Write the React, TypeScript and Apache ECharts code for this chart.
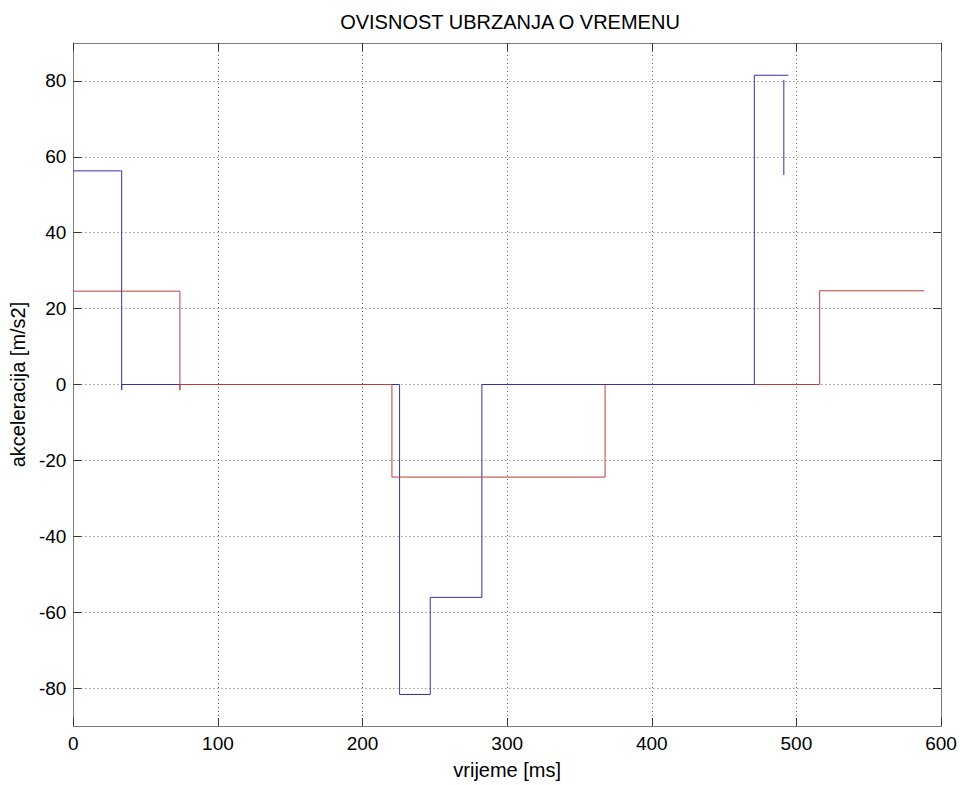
import React, { useEffect, useRef } from "react";
import * as echarts from "echarts";

const titleText = "OVISNOST UBRZANJA O VREMENU";
const xName = "vrijeme [ms]";
const yName = "akceleracija [m/s2]";

const xTicks = [0, 100, 200, 300, 400, 500, 600];
const yTicks = [-80, -60, -40, -20, 0, 20, 40, 60, 80];

// blue series: [time ms, acceleration m/s2]; null marks a break in the line
const blueTimes = [0, 33.4, 33.4, 33.4, 225.6, 225.6, 246.8, 246.8, 282.5, 282.5, 470.9, 470.9, 494.5, null, 491.3, 491.3];
const blueValues = [56.3, 56.3, -1.5, 0, 0, -81.7, -81.7, -56.1, -56.1, 0, 0, 81.5, 81.5, null, 80.3, 55.2];

// red series (early part, drawn on top)
const redEarlyTimes = [0, 73.7, 73.7, 73.7, 220.3, 220.3, 367.7, 367.7];
const redEarlyValues = [24.6, 24.6, -1.5, 0, 0, -24.4, -24.4, 0];
// red series (late part, drawn beneath blue)
const redLateTimes = [367.7, 516.1, 516.1, 588.5];
const redLateValues = [0, 0, 24.7, 24.7];

const BLUE = "#3232a6";
const RED = "#c23b3b";
const FONT = "Liberation Sans";

function pairs(xs: (number | null)[], ys: (number | null)[]) {
  return xs.map((x, i) => (x === null || ys[i] === null ? ["-", "-"] : [x, ys[i]]));
}

export default function App() {
  const ref = useRef<HTMLDivElement>(null);
  useEffect(() => {
    if (!ref.current) return;
    const chart = echarts.init(ref.current, undefined, { renderer: "svg" });
    const axisLineStyle = { color: "#7a7a7a", width: 1 };
    const tickStyle = { color: "#333", width: 1 };
    const gridLine = { color: "#666", width: 1, type: [1, 3] as any };
    const lineSeries = (name: string, data: any[], color: string) => ({
      name,
      type: "line",
      data,
      showSymbol: false,
      symbol: "none",
      connectNulls: false,
      lineStyle: { color, width: 1 },
      xAxisIndex: 0,
      yAxisIndex: 0,
      silent: true,
    });
    chart.setOption({
      animation: false,
      backgroundColor: "#ffffff",
      title: {
        text: titleText,
        left: 505,
        textAlign: "center",
        top: 7,
        textStyle: { fontFamily: FONT, fontSize: 20, fontWeight: "normal", color: "#000" },
      },
      grid: { left: 73, right: 21, top: 43, bottom: 58, containLabel: false },
      xAxis: [
        {
          type: "value",
          min: 0,
          max: 600,
          interval: 100,
          position: "bottom",
          name: xName,
          nameLocation: "middle",
          nameGap: 34,
          nameTextStyle: { fontFamily: FONT, fontSize: 20, color: "#000", verticalAlign: "top" },
          axisLine: { show: true, onZero: false, lineStyle: axisLineStyle },
          axisTick: { show: true, inside: true, length: 8, lineStyle: tickStyle, customValues: xTicks },
          axisLabel: { fontFamily: FONT, fontSize: 19, color: "#000", margin: 8, customValues: xTicks },
          splitLine: { show: true, lineStyle: gridLine },
        },
        {
          type: "value",
          min: 0,
          max: 600,
          interval: 100,
          position: "top",
          axisLine: { show: true, onZero: false, lineStyle: axisLineStyle },
          axisTick: { show: true, inside: true, length: 8, lineStyle: tickStyle, customValues: xTicks },
          axisLabel: { show: false },
          splitLine: { show: false },
        },
      ],
      yAxis: [
        {
          type: "value",
          min: -90,
          max: 90,
          position: "left",
          name: yName,
          nameLocation: "middle",
          nameGap: 44,
          nameRotate: 90,
          nameTextStyle: { fontFamily: FONT, fontSize: 20, color: "#000" },
          axisLine: { show: true, onZero: false, lineStyle: axisLineStyle },
          axisTick: { show: true, inside: true, length: 8, lineStyle: tickStyle, customValues: yTicks },
          axisLabel: { fontFamily: FONT, fontSize: 19, color: "#000", margin: 7, customValues: yTicks },
          splitLine: { show: true, lineStyle: gridLine },
        },
        {
          type: "value",
          min: -90,
          max: 90,
          position: "right",
          axisLine: { show: true, onZero: false, lineStyle: axisLineStyle },
          axisTick: { show: true, inside: true, length: 8, lineStyle: tickStyle, customValues: yTicks },
          axisLabel: { show: false },
          splitLine: { show: false },
        },
      ],
      series: [
        lineSeries("redLate", pairs(redLateTimes, redLateValues), RED),
        lineSeries("blue", pairs(blueTimes, blueValues), BLUE),
        lineSeries("redEarly", pairs(redEarlyTimes, redEarlyValues), RED),
      ],
    });
    return () => chart.dispose();
  }, []);
  return (
    <div
      ref={ref}
      style={{ position: "absolute", left: 0, top: 0, width: 962, height: 785, background: "#fff" }}
    />
  );
}
